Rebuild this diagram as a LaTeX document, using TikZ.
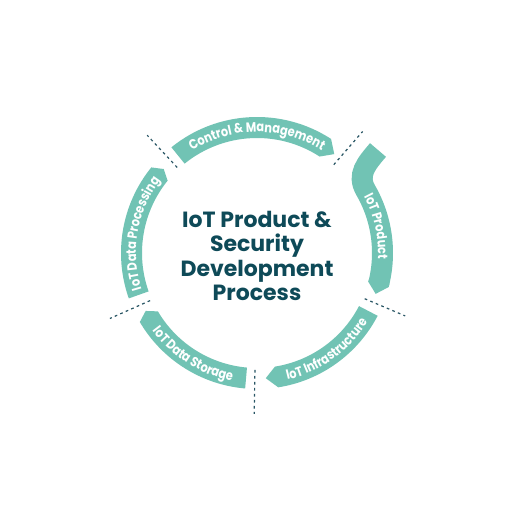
\documentclass[tikz,border=0pt]{standalone}
\usepackage{fontspec}
\setmainfont{Poppins}
\newfontfamily\bandfam{Poppins}[FakeStretch=0.84]
\usetikzlibrary{decorations.text}
\definecolor{band}{RGB}{113,195,180}
\definecolor{ink}{RGB}{14,74,88}
\definecolor{dashc}{RGB}{40,85,100}
\newcommand{\bandfont}{\bandfam\fontsize{13.5}{14}\selectfont\bfseries}
\begin{document}
\begin{tikzpicture}[x=1pt,y=1pt,
  sep/.style={draw=dashc, line width=1.2pt, dash pattern=on 2.7pt off 3.3pt},
  title/.style={text=ink, font=\fontsize{22}{24}\selectfont\bfseries, anchor=base, inner sep=0pt},
  btext/.style={decorate, decoration={text along path, text align=center, text color=white, text={|\bandfont|#1}}}
]
\useasboundingbox (-257,-251) rectangle (275,253);
\fill[white] (-257,-251) rectangle (275,253);

% Control & Management
\fill[band] (129:136) arc[start angle=129, end angle=57, radius=136] -- (52:125.5) -- (57:115) arc[start angle=57, end angle=129, radius=115] -- cycle;
% IoT Product (S-shaped top)
\draw[band, line width=21pt, line cap=butt] (121,103) .. controls (109.3,89.3) and (99.7,78.3) .. (30:125.5) arc[start angle=30, end angle=-14.5, radius=125.5];
\fill[band] (-13:136) -- (-14.5:136) -- (-19:125.5) -- (-14.5:115) -- (-13:115) -- cycle;
% IoT Infrastructure
\fill[band] (-27.5:136) arc[start angle=-27.5, end angle=-81, radius=136] -- (-86:125.5) -- (-81:115) arc[start angle=-81, end angle=-27.5, radius=115] -- cycle;
% IoT Data Storage
\fill[band] (265:136) arc[start angle=265, end angle=210.5, radius=136] -- (207.5:125.5) -- (210.5:115) arc[start angle=210.5, end angle=265, radius=115] -- cycle;
% IoT Data Processing
\fill[band] (199.5:136) arc[start angle=199.5, end angle=141, radius=136] -- (138:125.5) -- (141:115) arc[start angle=141, end angle=199.5, radius=115] -- cycle;

% band labels (paths longer than the bands, text centred on the band)
\path[btext={Control {\&} Management}] (135:121) arc[start angle=135, end angle=45, radius=121];
\path[btext={IoT Product}] (45:121) arc[start angle=45, end angle=-20, radius=121];
\path[btext={IoT Infrastructure}] (-88:130.5) arc[start angle=-88, end angle=-20.5, radius=130.5];
\path[btext={IoT Data Storage}] (203.5:130.5) arc[start angle=203.5, end angle=272, radius=130.5];
\path[btext={IoT Data Processing}] (205.5:121) arc[start angle=205.5, end angle=135, radius=121];

% separators
\draw[sep] (133:117) -- (133:161);
\draw[sep] (49:117) -- (49:161);
\draw[sep] (-23:117) -- (-23:161);
\draw[sep] (-91:117) -- (-91:161);
\draw[sep] (204:117) -- (204:161);

% title
\node[title] (t1) at (0,26) {IoT Product \&};
\node[title] (t2) at (0,2) {Security};
\node[title] (t3) at (0,-23) {Development};
\node[title] (t4) at (0,-47) {Process};
\end{tikzpicture}
\end{document}
